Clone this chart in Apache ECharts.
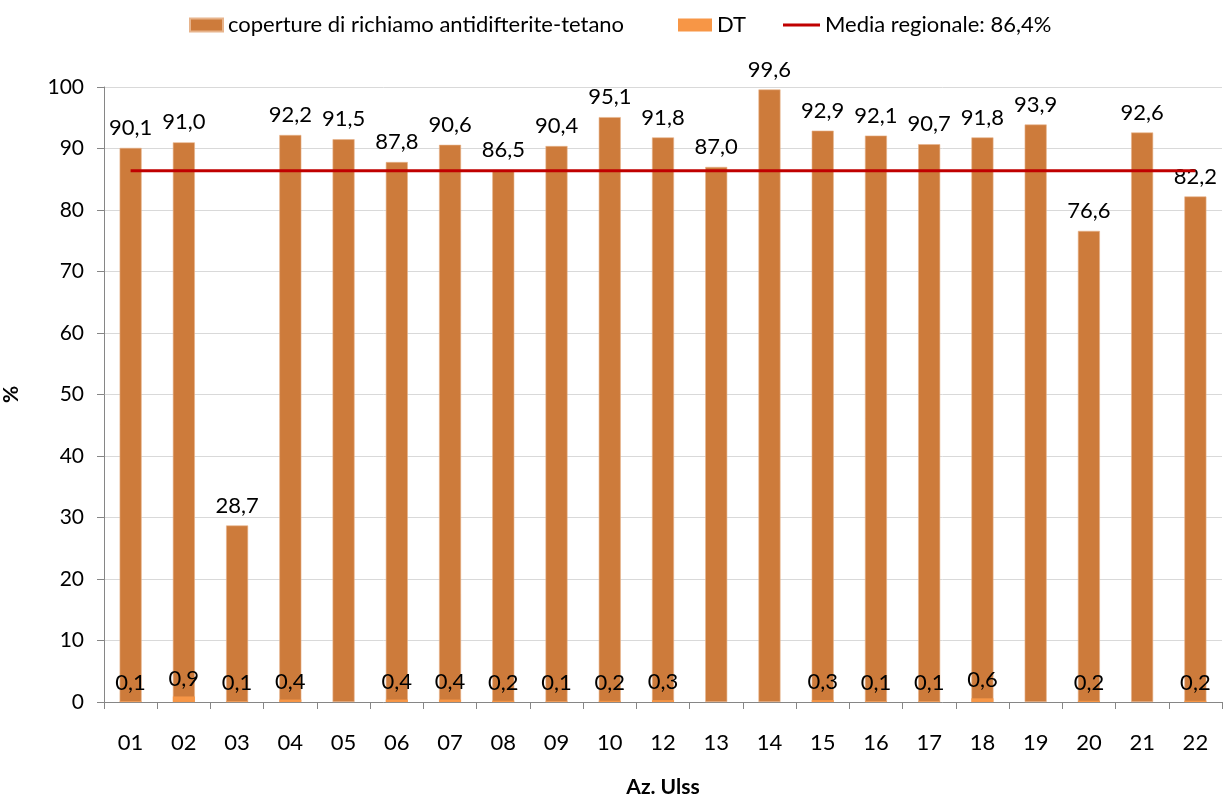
<!DOCTYPE html>
<html>
<head>
<meta charset="utf-8">
<style>
  html, body { margin: 0; padding: 0; background: #ffffff; }
  #chart { width: 1224px; height: 794px; }
</style>
<script src="https://cdn.jsdelivr.net/npm/echarts@6/dist/echarts.min.js"></script>
</head>
<body>
<div id="chart"></div>
<script>
// Aziende ULSS
const categories = ['01','02','03','04','05','06','07','08','09','10','12','13','14','15','16','17','18','19','20','21','22'];
// Coperture di richiamo antidifterite-tetano (%)
const coperture = [90.1, 91.0, 28.7, 92.2, 91.5, 87.8, 90.6, 86.5, 90.4, 95.1, 91.8, 87.0, 99.6, 92.9, 92.1, 90.7, 91.8, 93.9, 76.6, 92.6, 82.2];
// Quota DT (%)
const dt = [0.1, 0.9, 0.1, 0.4, null, 0.4, 0.4, 0.2, 0.1, 0.2, 0.3, null, null, 0.3, 0.1, 0.1, 0.6, null, 0.2, null, 0.2];
// Media regionale
const mediaRegionale = 86.4;
const media = categories.map(() => mediaRegionale);
const yTicks = { min: 0, max: 100, interval: 10 };

const FONT = 'Lato';
const fmt = v => (v == null ? '' : Number(v).toFixed(1).replace('.', ','));

const chart = echarts.init(document.getElementById('chart'), null, { renderer: 'canvas' });

const legendText = { fontFamily: FONT, fontSize: 22, color: '#000' };
// thin horizontal stroke centred in the legend icon box
const lineIcon = 'path://M0,0L0,0M0,5L37,5L37,8L0,8ZM37,13L37,13';

chart.setOption({
  animation: false,
  backgroundColor: '#ffffff',
  textStyle: { fontFamily: FONT },
  legend: [
    { data: [{ name: 'coperture di richiamo antidifterite-tetano', icon: 'rect' }], left: 184, top: 9,
      itemWidth: 33, itemHeight: 13, itemGap: 4, textStyle: legendText },
    { data: [{ name: 'DT', icon: 'rect' }], left: 673, top: 9,
      itemWidth: 34, itemHeight: 13, itemGap: 4, textStyle: legendText },
    { data: [{ name: 'Media regionale: 86,4%', icon: lineIcon }], left: 778, top: 9,
      itemWidth: 37, itemHeight: 13, itemGap: 4, textStyle: legendText }
  ],
  grid: { left: 104, right: 2, top: 87, bottom: 92, containLabel: false, outerBoundsMode: 'none' },
  xAxis: {
    type: 'category',
    data: categories,
    name: 'Az. Ulss',
    nameLocation: 'middle',
    nameGap: 75,
    nameTextStyle: { fontFamily: FONT, fontSize: 21, fontWeight: 'bold', color: '#000' },
    axisLine: { lineStyle: { color: '#868686', width: 1 } },
    axisTick: { show: true, alignWithLabel: false, length: 7, lineStyle: { color: '#868686' } },
    axisLabel: { fontFamily: FONT, fontSize: 22, color: '#000', margin: 30 }
  },
  yAxis: {
    type: 'value',
    min: yTicks.min, max: yTicks.max, interval: yTicks.interval,
    name: '%',
    nameLocation: 'middle',
    nameGap: 82,
    nameRotate: 90,
    nameTextStyle: { fontFamily: FONT, fontSize: 21, fontWeight: 'bold', color: '#000' },
    axisLine: { show: true, lineStyle: { color: '#868686', width: 1 } },
    axisTick: { show: true, length: 7, lineStyle: { color: '#868686' } },
    axisLabel: { fontFamily: FONT, fontSize: 21, color: '#000', margin: 20 },
    splitLine: { show: true, lineStyle: { color: '#d9d9d9', width: 1 } }
  },
  series: [
    {
      name: 'coperture di richiamo antidifterite-tetano',
      type: 'bar',
      data: coperture,
      barWidth: 22,
      barGap: '-100%',
      itemStyle: { color: '#cd7b3b', borderColor: '#e7b48c', borderWidth: 0.6 },
      label: {
        show: true, position: 'top', distance: 9,
        fontFamily: FONT, fontSize: 22, color: '#000',
        formatter: p => fmt(p.value)
      },
      z: 2
    },
    {
      name: 'DT',
      type: 'bar',
      data: dt,
      barWidth: 22,
      barGap: '-100%',
      itemStyle: { color: '#f79646' },
      label: {
        show: true, position: 'top', distance: 7,
        fontFamily: FONT, fontSize: 22, color: '#000',
        formatter: p => fmt(p.value)
      },
      z: 3
    },
    {
      name: 'Media regionale: 86,4%',
      type: 'line',
      data: media,
      symbol: 'none',
      showSymbol: false,
      lineStyle: { color: '#c00000', width: 3 },
      itemStyle: { color: '#c00000' },
      z: 4
    }
  ]
});
</script>
</body>
</html>
